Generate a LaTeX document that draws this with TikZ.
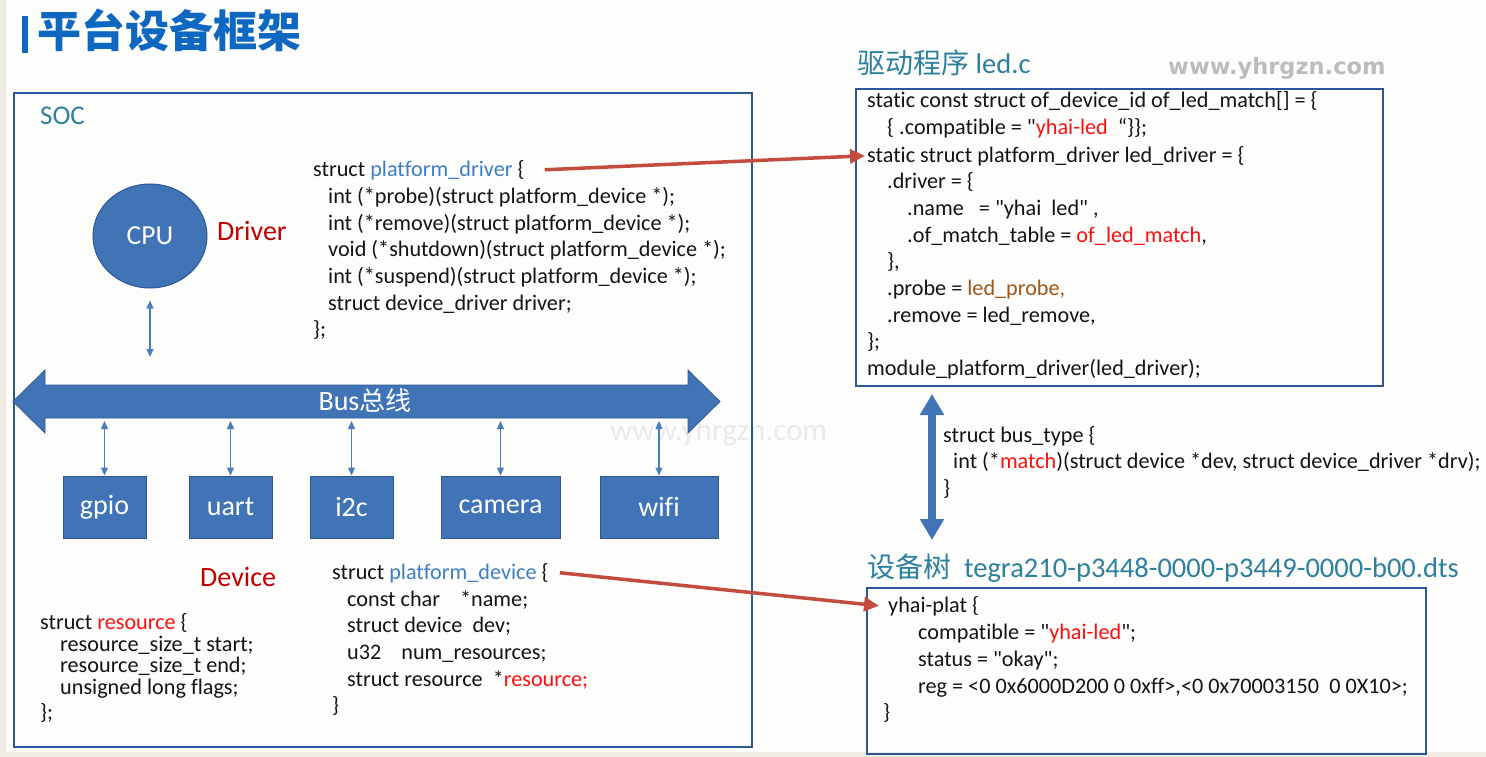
\documentclass[tikz,border=0pt]{standalone}
\usepackage{fontspec}
\setmainfont{Carlito}[Ligatures={TeXOff,NoCommon}]
\newfontfamily\cjk{Noto Sans CJK SC}
\newfontfamily\wmfont{DejaVu Sans}
\usetikzlibrary{arrows.meta,calc,shapes.geometric}

\definecolor{pagebg}{RGB}{253,253,251}
\definecolor{pageedge}{RGB}{240,236,226}
\definecolor{framebl}{RGB}{46,86,148}
\definecolor{boxfill}{RGB}{64,116,183}
\definecolor{boxedge}{RGB}{47,88,145}
\definecolor{headteal}{RGB}{45,128,158}
\definecolor{titleblue}{RGB}{14,104,194}
\definecolor{pdblue}{RGB}{62,126,196}
\definecolor{darkred}{RGB}{192,0,0}
\definecolor{hotred}{RGB}{250,16,16}
\definecolor{brownish}{RGB}{160,86,26}
\definecolor{linkred}{RGB}{196,76,62}
\definecolor{thinblue}{RGB}{74,126,187}
\definecolor{codeink}{RGB}{20,20,20}
\definecolor{wmgray}{RGB}{188,188,188}
\definecolor{wmfaint}{RGB}{234,234,234}

\begin{document}
\begin{tikzpicture}[x=1pt,y=-1pt,
  code/.style={anchor=base west, inner sep=0pt, text=codeink, font=\fontsize{22.2}{26}\selectfont},
  heading/.style={anchor=base west, inner sep=0pt, text=headteal},
  frame/.style={draw=framebl, line width=2pt, inner sep=0pt, anchor=north west},
  devbox/.style={draw=boxedge, fill=boxfill, line width=1pt, inner sep=0pt, text=white,
    minimum height=62pt, font=\fontsize{28}{32}\selectfont},
  redtag/.style={anchor=base west, inner sep=0pt, text=darkred, font=\fontsize{28}{32}\selectfont},
  thinarrow/.style={draw=thinblue, line width=1.2pt,
    {Triangle[length=8pt,width=7pt]}-{Triangle[length=8pt,width=7pt]}},
  redlink/.style={draw=linkred, line width=3.5pt, -{Triangle[length=15pt,width=14pt]}},
  fatarrow/.style={draw=boxfill, line width=8pt,
    {Triangle[length=21pt,width=23pt]}-{Triangle[length=21pt,width=23pt]}}
]
\useasboundingbox (0,0) rectangle (1486,757);
\fill[pagebg] (0,0) rectangle (1486,757);
\fill[pageedge] (0,0) rectangle (6,757);
\fill[pageedge] (0,752) rectangle (1486,757);

% title
\fill[titleblue] (22,16) rectangle (28,53);
\node[anchor=base west, inner sep=0pt, text=titleblue, font=\cjk\bfseries\fontsize{44}{48}\selectfont]
  (title) at (37,48) {平台设备框架};

% watermarks
\node[anchor=base west, inner sep=0pt, text=wmgray, font=\wmfont\bfseries\fontsize{22.5}{26}\selectfont]
  (wm1) at (1168,75) {www.yhrgzn.com};
\node[anchor=base west, inner sep=0pt, text=wmfaint, font=\fontsize{31}{34}\selectfont]
  (wm2) at (610,440) {www.yhrgzn.com};

% ---------- SOC ----------
\node[frame, minimum width=738pt, minimum height=654pt] (soc) at (13,92) {};
\node[heading, font=\fontsize{27}{30}\selectfont] (soclabel) at (40,125) {SOC};

\node[ellipse, draw=boxedge, fill=boxfill, line width=1pt, inner sep=0pt,
  minimum width=114pt, minimum height=104pt, text=white, font=\fontsize{27.5}{30}\selectfont]
  (cpu) at (150,236) {CPU};
\node[redtag] (drvlabel) at (217,240) {Driver};

% bus
\coordinate (busL) at (13,401.5);
\coordinate (busR) at (720,401.5);
\coordinate (bustop) at (0,357);
\coordinate (busbot) at (0,421);
\filldraw[fill=boxfill, draw=boxedge, line width=0.8pt]
  (busL) -- ++(32,-31.5) -- ++(0,15) -- ($(busR)+(-32,-16.5)$) -- ++(0,-15) -- (busR)
  -- ++(-32,31.5) -- ++(0,-15) -- ($(busL)+(32,16.5)$) -- ++(0,15) -- cycle;
\node[text=white, inner sep=0pt, font=\fontsize{28}{32}\selectfont] (buslabel) at (365,401)
  {Bus{\cjk\fontsize{26}{30}\selectfont 总线}};

\draw[thinarrow] ($(cpu.south)+(0,12)$) -- (cpu.south |- bustop);

% devices
\node[devbox, minimum width=83pt]  (gpio)   at (104.5,507) {gpio};
\node[devbox, minimum width=83pt]  (uart)   at (230.5,507) {uart};
\node[devbox, minimum width=83pt]  (i2c)    at (351.5,507) {i2c};
\node[devbox, minimum width=119pt] (camera) at (500.5,507) {camera};
\node[devbox, minimum width=118pt] (wifi)   at (659,507)   {wifi};
\foreach \d in {gpio,uart,i2c,camera,wifi}
  \draw[thinarrow] (\d.north |- busbot) -- (\d.north);

\node[redtag] (devlabel) at (200,586) {Device};

% struct platform_driver
\node[code] (drv1) at (313,176) {struct \textcolor{pdblue}{platform\_driver} \{};
\node[code] (drv2) at (328,203) {int (*probe)(struct platform\_device *);};
\node[code] (drv3) at (328,230) {int (*remove)(struct platform\_device *);};
\node[code] (drv4) at (328,256) {void (*shutdown)(struct platform\_device *);};
\node[code] (drv5) at (328,283) {int (*suspend)(struct platform\_device *);};
\node[code] (drv6) at (328,310) {struct device\_driver driver;};
\node[code] (drv7) at (313,336) {\};};

% struct resource (tighter line spacing)
\node[code] (res1) at (40,629) {struct \textcolor{hotred}{resource} \{};
\node[code] (res2) at (60,651) {resource\_size\_t start;};
\node[code] (res3) at (60,672) {resource\_size\_t end;};
\node[code] (res4) at (60,694) {unsigned long flags;};
\node[code] (res5) at (40,719) {\};};

% struct platform_device
\node[code] (pdev1) at (332,579) {struct \textcolor{pdblue}{platform\_device} \{};
\node[code] (pdev2) at (347,606) {const char\ \ \ \ *name;};
\node[code] (pdev3) at (347,632) {struct device\ \ dev;};
\node[code] (pdev4) at (347,659) {u32\ \ \ \ num\_resources;};
\node[code] (pdev5) at (347,686) {struct resource\ \ *\textcolor{hotred}{resource;}};
\node[code] (pdev6) at (332,712) {\}};

% ---------- led.c ----------
\node[heading, font=\fontsize{28.5}{32}\selectfont] (ledtitle) at (857,73.5)
  {{\cjk\fontsize{28}{32}\selectfont 驱动程序} led.c};
\node[frame, minimum width=527pt, minimum height=297pt] (ledbox) at (855,88) {};

\node[code] (led1)  at (867,108) {static const struct of\_device\_id of\_led\_match[] = \{};
\node[code] (led2)  at (887,135) {\{ .compatible = "\textcolor{hotred}{yhai-led} \ “\}\};};
\node[code] (led3)  at (867,162) {static struct platform\_driver led\_driver = \{};
\node[code] (led4)  at (887,188) {.driver = \{};
\node[code] (led5)  at (907,215) {.name\ \ \ = "yhai\ \ led" ,};
\node[code] (led6)  at (907,242) {.of\_match\_table = \textcolor{hotred}{of\_led\_match},};
\node[code] (led7)  at (887,268) {\},};
\node[code] (led8)  at (887,295) {.probe = \textcolor{brownish}{led\_probe,}};
\node[code] (led9)  at (887,322) {.remove = led\_remove,};
\node[code] (led10) at (867,348) {\};};
\node[code] (led11) at (867,375) {module\_platform\_driver(led\_driver);};

% bus_type match
\coordinate (vtop) at ($(ledbox.south west)+(77,7)$);
\coordinate (vbot) at (932,540);
\draw[fatarrow] (vtop) -- (vbot);

\node[code] (bt1) at (943,442) {struct bus\_type \{};
\node[code] (bt2) at (953,468) {int (*\textcolor{hotred}{match})(struct device *dev, struct device\_driver *drv);};
\node[code] (bt3) at (943,495) {\}};

% ---------- device tree ----------
\node[heading, font=\fontsize{28.5}{32}\selectfont] (dtstitle) at (867,577)
  {{\cjk\fontsize{28}{32}\selectfont 设备树}\ \ tegra210-p3448-0000-p3449-0000-b00.dts};
\node[frame, minimum width=559pt, minimum height=166pt] (dtsbox) at (866,587) {};

\node[code] (dts1) at (888,612) {yhai-plat \{};
\node[code] (dts2) at (918,639) {compatible = "\textcolor{hotred}{yhai-led}";};
\node[code] (dts3) at (918,666) {status = "okay";};
\node[code] (dts4) at (918,693) {reg = <0 0x6000D200 0 0xff>,<0 0x70003150\ \ 0 0X10>;};
\node[code] (dts5) at (883,719) {\}};

% driver / device links
\draw[redlink] ($(drv1.east)+(20,0)$) -- ($(led3.west)+(-2,0)$);
\draw[redlink] ($(pdev1.east)+(11,0)$) -- ($(dts1.west)+(-9,0)$);
\end{tikzpicture}
\end{document}
